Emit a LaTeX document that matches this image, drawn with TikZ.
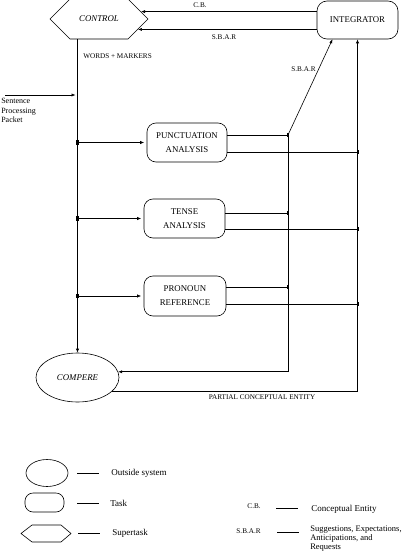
\documentclass[tikz,border=0pt]{standalone}
\usepackage{fontspec}
\setmainfont{Liberation Serif}
\usetikzlibrary{arrows.meta,shapes.misc,shapes.geometric,calc}
\begin{document}
\begin{tikzpicture}[x=1pt,y=-1pt,line width=0.6pt,
  arr/.style={-{Latex[length=4pt,width=3.2pt]}},
  task/.style={draw,rounded corners=9pt,inner sep=0pt,align=center,font=\fontsize{8.8}{14}\selectfont},
  hexa/.style={draw,chamfered rectangle,inner sep=0pt,font=\fontsize{8.8}{10}\selectfont\itshape},
  lab/.style={inner sep=0pt,font=\fontsize{7.2}{8}\selectfont},
  legtext/.style={inner sep=0pt,anchor=west,align=left,font=\fontsize{9}{10}\selectfont},
  dotm/.style={fill,rectangle,inner sep=0pt,minimum width=2.5pt,minimum height=4.5pt}]
\useasboundingbox (0,0) rectangle (407,551);

% main nodes
\node[hexa,chamfered rectangle xsep=18pt,chamfered rectangle ysep=17pt,minimum width=98pt,minimum height=34pt] (control) at (99,19) {CONTROL};
\node[task,rounded corners=10pt,minimum width=81pt,minimum height=38pt] (integ) at (357.5,20) {INTEGRATOR};
\node[task,minimum width=80pt,minimum height=39pt] (punct) at (187,142.5) {PUNCTUATION\\ANALYSIS};
\node[task,minimum width=81pt,minimum height=39pt] (tense) at (184.5,218.5) {TENSE\\ANALYSIS};
\node[task,minimum width=82pt,minimum height=40pt] (pron) at (185,296) {PRONOUN\\REFERENCE};
\node[draw,ellipse,inner sep=0pt,minimum width=83pt,minimum height=49pt,font=\fontsize{8.8}{10}\selectfont\itshape] (compere) at (77.5,377.5) {COMPERE};

% coordinates
\coordinate (in) at (5,95);
\coordinate (pa) at (288,135);
\coordinate (pb) at (358,152);
\coordinate (ta) at (288,213);
\coordinate (tb) at (358,229);
\coordinate (ra) at (288,287);
\coordinate (rb) at (358,304);

% connectors
\draw[arr] (integ.west |- control.10) -- (control.10);
\draw[arr] (integ.west |- control.-15) -- (control.-15);
\draw[arr] (control.south -| compere.north) -- (compere.north);
\draw[arr,shorten >=2pt] (in) -- (in -| compere.north);
\foreach \n in {punct,tense,pron}{
  \draw[arr,shorten >=2.5pt] (\n.west -| compere.north) -- (\n.west);
  \node[dotm] at (\n.west -| compere.north) {};
}
\draw (pa -| punct.east) -- (pa);
\draw (pb -| punct.east) -- (pb);
\draw (ta -| tense.east) -- (ta);
\draw (tb -| tense.east) -- (tb);
\draw (ra -| pron.east) -- (ra);
\draw (rb -| pron.east) -- (rb);
\draw[arr] (pa) |- (compere.8);
\draw[arr] (pa) -- ($(integ.south)+(-25,0)$);
\draw[arr] (compere.-22) -| (integ.south);
\foreach \c in {pa,pb,ta,tb,ra,rb}{\node[dotm] at (\c) {};}

% labels
\node[lab] (cb) at (200,5) {C.B.};
\node[lab] (sbar1) at (224,37) {S.B.A.R};
\node[lab,anchor=west] (wm) at (83,56) {WORDS + MARKERS};
\node[lab] (sbar2) at (303.5,69) {S.B.A.R};
\node[lab] (pce) at (262,397.5) {PARTIAL CONCEPTUAL ENTITY};
\node[anchor=north west,align=left,inner sep=0pt,font=\fontsize{8}{9.5}\selectfont] (spp) at (1,98) {Sentence\\Processing\\Packet};

% legend
\node[draw,ellipse,inner sep=0pt,minimum width=42pt,minimum height=27pt] (lo) at (47,473) {};
\node[draw,rounded corners=8pt,inner sep=0pt,minimum width=39pt,minimum height=19pt] (lt) at (44.5,502.5) {};
\draw (21,533.5) -- (32,525) -- (61,525) -- (71,533.5) -- (61,542) -- (32,542) -- cycle;
\draw (77,473) -- (99,473);
\draw (77,503) -- (99,503);
\draw (78,533) -- (100,533);
\node[legtext] (t1) at (111,473) {Outside system};
\node[legtext] (t2) at (110,503) {Task};
\node[legtext] (t3) at (112,533) {Supertask};
\node[lab,anchor=east] (lcb) at (261,506.5) {C.B.};
\draw (276,508) -- (298,508);
\node[legtext] (t4) at (311,509) {Conceptual Entity};
\node[lab,anchor=east] (lsb) at (261,531.5) {S.B.A.R};
\draw (277,532) -- (299,532);
\node[legtext,anchor=north west,font=\fontsize{8.5}{9}\selectfont] (t5) at (310,525.5) {Suggestions, Expectations,\\Anticipations, and\\Requests};
\end{tikzpicture}
\end{document}
